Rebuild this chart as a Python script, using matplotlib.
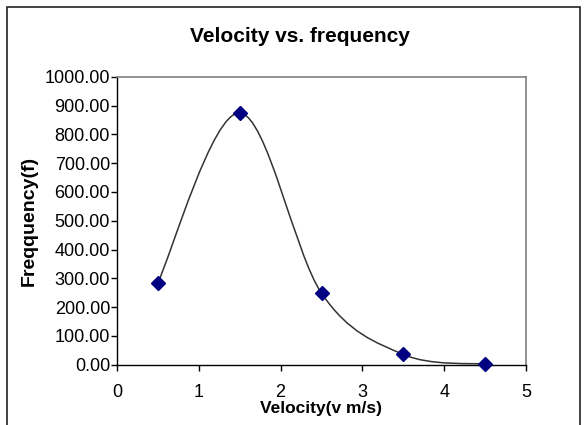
#!/usr/bin/env python3
"""Velocity vs. frequency, Excel style scatter with smoothed line."""

import matplotlib
matplotlib.use("Agg")
import matplotlib.pyplot as plt
import numpy as np
from matplotlib.patches import PathPatch, Rectangle
from matplotlib.path import Path
from matplotlib.ticker import FormatStrFormatter, MultipleLocator

velocity = [0.5, 1.5, 2.5, 3.5, 4.5]
frequency = [285.0, 875.0, 248.0, 35.0, 1.0]

plt.rcParams["font.family"] = ["Liberation Sans", "DejaVu Sans"]


def smooth_path(xs, ys):
    # Excel-like smoothing: cubic Bezier segments, tangents from neighbours / 6
    pts = np.column_stack([xs, ys])
    n = len(pts)
    verts = [pts[0]]
    codes = [Path.MOVETO]
    for i in range(n - 1):
        p_prev = pts[i - 1] if i > 0 else pts[i]
        p_next2 = pts[i + 2] if i + 2 < n else pts[i + 1]
        c1 = pts[i] + (pts[i + 1] - p_prev) / 6.0
        c2 = pts[i + 1] - (p_next2 - pts[i]) / 6.0
        verts += [c1, c2, pts[i + 1]]
        codes += [Path.CURVE4] * 3
    return Path(verts, codes)


fig = plt.figure(figsize=(5.86, 4.25), dpi=100)
ax = fig.add_axes([117 / 586, 1 - 364.5 / 425, 409 / 586, 287.5 / 425])

ax.add_patch(PathPatch(smooth_path(velocity, frequency), facecolor="none",
                       edgecolor="#333333", linewidth=1.1, zorder=2))
ax.plot(velocity, frequency, linestyle="none", marker="D", markersize=6.8,
        color="#000080", zorder=3, clip_on=False)

ax.set_xlim(0, 5)
ax.set_ylim(0, 1000)
ax.xaxis.set_major_locator(MultipleLocator(1))
ax.yaxis.set_major_locator(MultipleLocator(100))
ax.yaxis.set_major_formatter(FormatStrFormatter("%.2f"))
ax.tick_params(axis="both", direction="out", length=4, width=1,
               labelsize=13, colors="black")
ax.tick_params(axis="y", pad=1)
ax.tick_params(axis="x", pad=10)

for side in ("top", "right"):
    ax.spines[side].set_color("#808080")
    ax.spines[side].set_linewidth(1.2)
for side in ("left", "bottom"):
    ax.spines[side].set_color("black")
    ax.spines[side].set_linewidth(1.0)

ax.set_title("Velocity vs. frequency", fontsize=15, fontweight="bold", pad=25,
             x=0.447)
ax.set_xlabel("Velocity(v m/s)", fontsize=12.5, fontweight="bold", labelpad=0)
ax.set_ylabel("Freqquency(f)", fontsize=14, fontweight="bold", labelpad=5)

fig.patches.append(Rectangle((7 / 586, -0.05), 573 / 586, 1.05 - 7 / 425,
                             transform=fig.transFigure, fill=False,
                             edgecolor="#222222", linewidth=1.2))

fig.savefig("out.png", dpi=100)
